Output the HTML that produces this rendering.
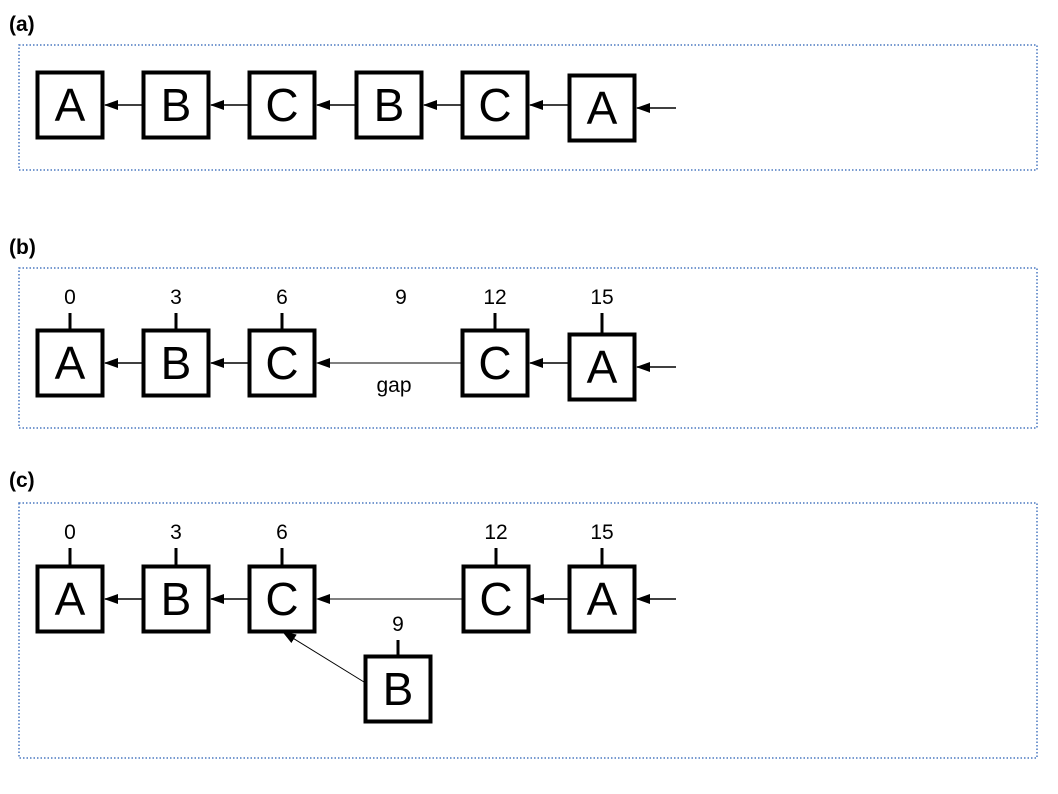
<!DOCTYPE html>
<html><head><meta charset="utf-8"><style>
html,body{margin:0;padding:0;background:#fff;}
svg{display:block;font-family:"Liberation Sans",sans-serif;}
</style></head><body>
<svg width="1058" height="794" viewBox="0 0 1058 794">
<defs><marker id="ah" markerWidth="14" markerHeight="10" refX="13" refY="5" orient="auto" markerUnits="userSpaceOnUse"><path d="M0,0 L14,5 L0,10 Z" fill="#000"/></marker></defs>
<g id="root"></g>
</svg>
<script>
const panelLabels = ['(a)','(b)','(c)'];
const panelTops = [22, 245, 478];
const frames = [[19,45,1018,125],[19,268,1018,160],[19,503,1018,255]];
const aLetters = ['A','B','C','B','C','A'];
const aX = [36,142,248,355,461,568];
const aY = [71,71,71,71,71,74];
const bLetters = ['A','B','C','C','A'];
const bX = [36,142,248,461,568];
const bY = [329,329,329,329,333];
const bTimes = ['0','3','6','12','15'];
const cLetters = ['A','B','C','C','A'];
const cX = [36,142,248,462,568];
const cY = [565,565,565,565,565];
const root = document.getElementById('root');
const NS='http://www.w3.org/2000/svg';
function mk(t,a,txt){const e=document.createElementNS(NS,t);for(const k in a)e.setAttribute(k,a[k]);if(txt!==undefined)e.textContent=txt;root.appendChild(e);return e;}
panelLabels.forEach((l,i)=>{const t=mk('text',{x:9,y:panelTops[i]+9,'font-size':21,'font-weight':'bold'},l);


const f=frames[i];const r=mk('rect',{x:f[0],y:f[1],width:f[2],height:f[3],fill:'none',stroke:'#4a78c0','stroke-width':1.5,'stroke-dasharray':'1.5 2'});

});
function box(x,y,L,name){const r=mk('rect',{x:x+1.5,y:y+1.5,width:65,height:65,fill:'#fff',stroke:'#000','stroke-width':4});


const t=mk('text',{x:x+34,y:y+50,'font-size':46,'text-anchor':'middle'},L);

}
function arrow(x1,y1,x2,y2,w,name){const l=mk('line',{x1,y1,x2,y2,stroke:'#000','stroke-width':w||1.5,'marker-end':'url(#ah)'});

}
function tick(cx,top,y,lab,name){const l=mk('line',{x1:cx,y1:top,x2:cx,y2:y,stroke:'#000','stroke-width':3});


const t=mk('text',{x:cx,y:top-9,'font-size':21,'text-anchor':'middle'},lab);

}
function row(xs,ys,letters,p){for(let i=0;i<xs.length;i++){const next=i+1<xs.length?xs[i+1]:676;const y=ys[i]+34;arrow(next,y,xs[i]+69,y,(next-xs[i]>150)?1:1.5,p+'-arrow-'+i);}
xs.forEach((x,i)=>box(x,ys[i],letters[i],p+'-box-'+i));}
row(aX,aY,aLetters,'a');
bX.forEach((x,i)=>tick(x+34,313,bY[i]+1,bTimes[i],'b-'+i));
row(bX,bY,bLetters,'b');
const t9=mk('text',{x:401,y:304,'font-size':21,'text-anchor':'middle'},'9');


const gap=mk('text',{x:394,y:392,'font-size':21,'text-anchor':'middle'},'gap');


cX.forEach((x,i)=>tick(x+34,548,cY[i],bTimes[i],'c-'+i));
row(cX,cY,cLetters,'c');
arrow(364,682,283,632,1,'c-branch-arrow');
tick(398,640,655,'9','c-branch');
box(364,655,'B','c-branch-box');
</script>
</body></html>
